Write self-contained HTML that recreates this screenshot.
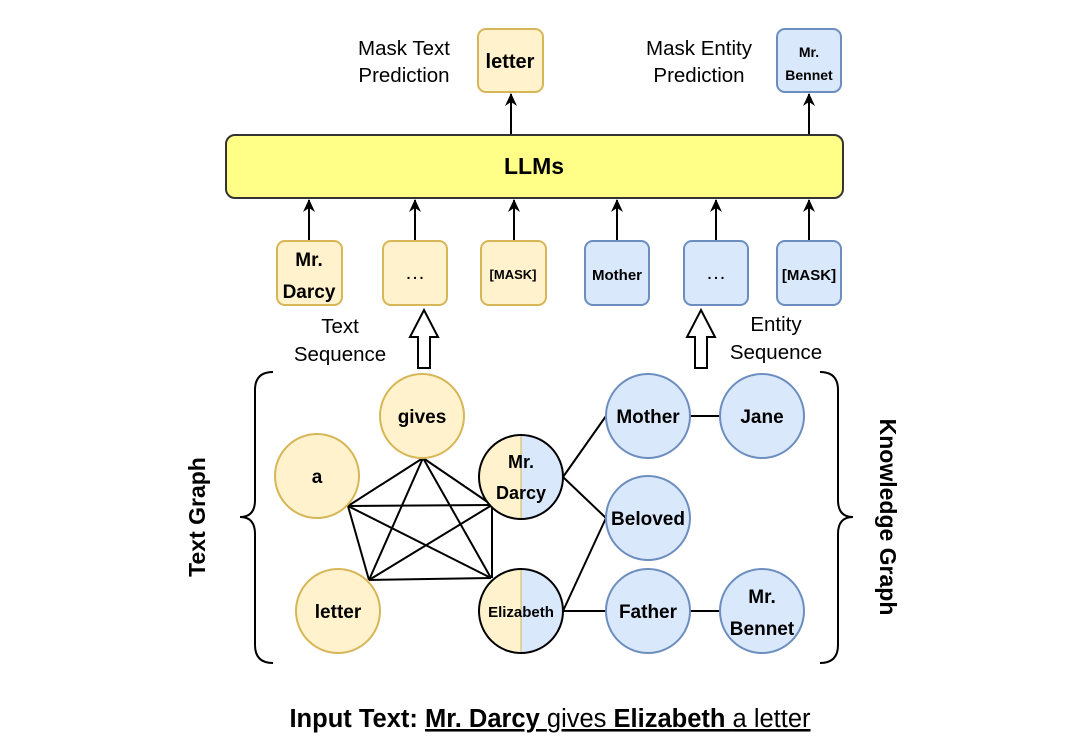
<!DOCTYPE html>
<html><head><meta charset="utf-8"><style>
html,body{margin:0;padding:0;background:#fff;}
svg{display:block;font-family:"Liberation Sans",Arial,sans-serif;}
.y{fill:#fff2cc;stroke:#d6b656;stroke-width:2}
.b{fill:#dae8fc;stroke:#6c8ebf;stroke-width:2}
.l{stroke:#000;stroke-width:2;fill:none}
.t{font-weight:bold;text-anchor:middle;fill:#000}
.n{text-anchor:middle;fill:#000;font-size:20.5px}
</style></head><body>
<svg width="1080" height="749" viewBox="0 0 1080 749" xmlns="http://www.w3.org/2000/svg">
<defs><marker id="a" markerWidth="14" markerHeight="14" refX="12" refY="6" orient="auto" markerUnits="userSpaceOnUse"><path d="M0,0 L13,6 L0,12 L4,6 Z" fill="#000"/></marker>
<clipPath id="c1"><circle cx="521" cy="477" r="42"/></clipPath>
<clipPath id="c2"><circle cx="521" cy="611" r="42"/></clipPath></defs>

<!-- top -->
<text class="n" x="404" y="55">Mask Text</text>
<text class="n" x="404" y="82">Prediction</text>
<rect class="y" x="478" y="29" width="65" height="63" rx="8"/>
<text class="t" x="510" y="68" font-size="20">letter</text>
<text class="n" x="699" y="55">Mask Entity</text>
<text class="n" x="699" y="82">Prediction</text>
<rect class="b" x="777" y="29" width="64" height="63" rx="8"/>
<text class="t" x="809" y="57" font-size="14">Mr.</text>
<text class="t" x="809" y="80" font-size="14">Bennet</text>
<line class="l" x1="511" y1="134" x2="511" y2="94" marker-end="url(#a)"/>
<line class="l" x1="809" y1="134" x2="809" y2="94" marker-end="url(#a)"/>

<rect x="226" y="135" width="617" height="63" rx="9" fill="#ffff88" stroke="#333" stroke-width="2"/>
<text class="t" x="534" y="174" font-size="23">LLMs</text>

<g>
<line class="l" x1="309" y1="240" x2="309" y2="200" marker-end="url(#a)"/>
<line class="l" x1="415" y1="240" x2="415" y2="200" marker-end="url(#a)"/>
<line class="l" x1="514" y1="240" x2="514" y2="200" marker-end="url(#a)"/>
<line class="l" x1="617" y1="240" x2="617" y2="200" marker-end="url(#a)"/>
<line class="l" x1="716" y1="240" x2="716" y2="200" marker-end="url(#a)"/>
<line class="l" x1="809" y1="240" x2="809" y2="200" marker-end="url(#a)"/>
</g>
<rect class="y" x="277" y="241" width="65" height="64" rx="8"/>
<text class="t" x="309" y="266" font-size="19">Mr.</text>
<text class="t" x="309" y="298" font-size="19">Darcy</text>
<rect class="y" x="383" y="241" width="64" height="64" rx="8"/>
<text class="n" x="415" y="279">…</text>
<rect class="y" x="481" y="241" width="65" height="64" rx="8"/>
<text class="t" x="513" y="279" font-size="13">[MASK]</text>
<rect class="b" x="585" y="241" width="64" height="64" rx="8"/>
<text class="t" x="617" y="280" font-size="15">Mother</text>
<rect class="b" x="684" y="241" width="64" height="64" rx="8"/>
<text class="n" x="716" y="279">…</text>
<rect class="b" x="777" y="241" width="64" height="64" rx="8"/>
<text class="t" x="809" y="280" font-size="15">[MASK]</text>

<text class="n" x="340" y="333">Text</text>
<text class="n" x="340" y="361">Sequence</text>
<text class="n" x="776" y="331">Entity</text>
<text class="n" x="776" y="359">Sequence</text>
<path d="M418,368 L418,337 L410,337 L424,310 L438,337 L430,337 L430,368 Z" fill="#fff" stroke="#000" stroke-width="2"/>
<path d="M695,368 L695,337 L687,337 L701,310 L715,337 L707,337 L707,368 Z" fill="#fff" stroke="#000" stroke-width="2"/>

<!-- braces -->
<path class="l" d="M273,372 Q255,372 255,390 L255,500 Q255,517 240,517 Q255,517 255,534 L255,645 Q255,663 273,663"/>
<path class="l" d="M820,372 Q838,372 838,390 L838,500 Q838,517 853,517 Q838,517 838,534 L838,645 Q838,663 820,663"/>
<text class="t" font-size="23" transform="translate(205,517) rotate(-90)">Text Graph</text>
<text class="t" font-size="23" transform="translate(880,517) rotate(90)">Knowledge Graph</text>

<!-- edges -->
<g class="l">
<line x1="423" y1="458" x2="348" y2="506"/><line x1="423" y1="458" x2="369" y2="580"/>
<line x1="423" y1="458" x2="492" y2="505"/><line x1="423" y1="458" x2="491" y2="578"/>
<line x1="348" y1="506" x2="369" y2="580"/><line x1="348" y1="506" x2="492" y2="505"/>
<line x1="348" y1="506" x2="491" y2="578"/><line x1="369" y1="580" x2="492" y2="505"/>
<line x1="369" y1="580" x2="491" y2="578"/><line x1="492" y1="505" x2="492" y2="578"/>
<line x1="563" y1="477" x2="606" y2="416"/><line x1="563" y1="477" x2="606" y2="518"/>
<line x1="563" y1="611" x2="606" y2="518"/><line x1="563" y1="611" x2="606" y2="611"/>
<line x1="690" y1="416" x2="720" y2="416"/><line x1="690" y1="611" x2="720" y2="611"/>
</g>

<circle class="y" cx="422" cy="416" r="42"/><text class="t" x="422" y="423" font-size="19">gives</text>
<circle class="y" cx="317" cy="476" r="42"/><text class="t" x="317" y="483" font-size="19">a</text>
<circle class="y" cx="338" cy="611" r="42"/><text class="t" x="338" y="618" font-size="19">letter</text>

<g clip-path="url(#c1)"><rect x="479" y="435" width="42" height="84" fill="#fff2cc"/><rect x="521" y="435" width="42" height="84" fill="#dae8fc"/><line x1="521" y1="435" x2="521" y2="519" stroke="#d6b656"/></g>
<circle cx="521" cy="477" r="42" fill="none" stroke="#000" stroke-width="2"/>
<text class="t" x="521" y="468" font-size="18">Mr.</text><text class="t" x="521" y="499" font-size="18">Darcy</text>
<g clip-path="url(#c2)"><rect x="479" y="569" width="42" height="84" fill="#fff2cc"/><rect x="521" y="569" width="42" height="84" fill="#dae8fc"/><line x1="521" y1="569" x2="521" y2="653" stroke="#d6b656"/></g>
<circle cx="521" cy="611" r="42" fill="none" stroke="#000" stroke-width="2"/>
<text class="t" x="521" y="617" font-size="15">Elizabeth</text>

<circle class="b" cx="648" cy="416" r="42"/><text class="t" x="648" y="423" font-size="19">Mother</text>
<circle class="b" cx="762" cy="416" r="42"/><text class="t" x="762" y="423" font-size="19">Jane</text>
<circle class="b" cx="648" cy="518" r="42"/><text class="t" x="648" y="525" font-size="19">Beloved</text>
<circle class="b" cx="648" cy="611" r="42"/><text class="t" x="648" y="618" font-size="19">Father</text>
<circle class="b" cx="762" cy="611" r="42"/><text class="t" x="762" y="603" font-size="19">Mr.</text><text class="t" x="762" y="635" font-size="19">Bennet</text>

<text x="550" y="727" text-anchor="middle" font-size="25.5" fill="#000"><tspan font-weight="bold">Input Text: </tspan><tspan font-weight="bold" text-decoration="underline">Mr. Darcy </tspan><tspan text-decoration="underline">gives </tspan><tspan font-weight="bold" text-decoration="underline">Elizabeth </tspan><tspan text-decoration="underline">a letter</tspan></text>
</svg>
</body></html>
